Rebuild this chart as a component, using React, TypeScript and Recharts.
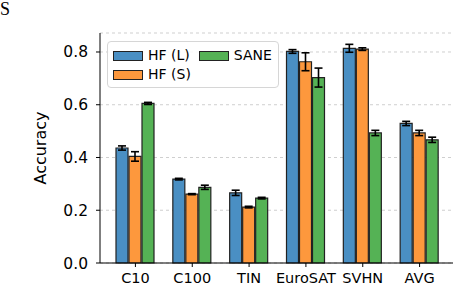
import { BarChart, Bar, XAxis, YAxis, CartesianGrid, ErrorBar } from 'recharts';

const categories = ['C10', 'C100', 'TIN', 'EuroSAT', 'SVHN', 'AVG'];
const hfL = [0.436, 0.318, 0.266, 0.802, 0.814, 0.529];
const hfLErr = [0.008, 0.003, 0.01, 0.007, 0.015, 0.008];
const hfS = [0.404, 0.261, 0.212, 0.763, 0.811, 0.493];
const hfSErr = [0.018, 0.002, 0.003, 0.034, 0.005, 0.01];
const sane = [0.605, 0.287, 0.246, 0.703, 0.493, 0.467];
const saneErr = [0.004, 0.008, 0.003, 0.036, 0.01, 0.01];
const yTicks = [0, 0.2, 0.4, 0.6, 0.8];

const series = [
  { key: 'hfL', err: 'hfLErr', name: 'HF (L)', color: '#4a8fc3' },
  { key: 'hfS', err: 'hfSErr', name: 'HF (S)', color: '#fd983d' },
  { key: 'sane', err: 'saneErr', name: 'SANE', color: '#55b255' },
];

const data = categories.map((c, i) => ({
  name: c,
  hfL: hfL[i],
  hfLErr: hfLErr[i],
  hfS: hfS[i],
  hfSErr: hfSErr[i],
  sane: sane[i],
  saneErr: saneErr[i],
}));

const font = '"DejaVu Sans", sans-serif';

const Patch = ({ color }: { color: string }) => (
  <div style={{ width: 28, height: 8, background: color, border: '1.2px solid #222', flex: 'none' }} />
);

// matplotlib style legend box, two columns
const LegendBox = () => {
  const item = (s: (typeof series)[number]) => (
    <div style={{ display: 'flex', alignItems: 'center', gap: 5, height: 19, whiteSpace: 'nowrap' }}>
      <Patch color={s.color} />
      <span>{s.name}</span>
    </div>
  );
  return (
    <div
      style={{
        position: 'absolute',
        left: 107,
        top: 41,
        boxSizing: 'border-box',
        display: 'flex',
        gap: 8,
        padding: '4px 5px',
        border: '1px solid #d6d6d6',
        borderRadius: 4,
        background: 'rgba(255,255,255,0.85)',
        fontFamily: font,
        fontSize: 14,
        lineHeight: '19px',
        color: '#000',
        width: 172,
        height: 47,
      }}
    >
      <div>
        {item(series[0])}
        {item(series[1])}
      </div>
      <div>{item(series[2])}</div>
    </div>
  );
};

export default function App() {
  return (
    <div style={{ position: 'absolute', left: 0, top: 0, width: 456, height: 286, background: '#fff' }}>
      <span
        style={{
          position: 'absolute',
          left: 0,
          top: 0,
          fontFamily: '"Liberation Serif", serif',
          fontSize: 18,
          lineHeight: '18px',
          color: '#000',
        }}
      >
        S
      </span>
      <BarChart
        width={456}
        height={286}
        data={data}
        margin={{ top: 33, right: 3, left: 0, bottom: 0 }}
        barSize={12}
        barGap={1}
      >
        <CartesianGrid vertical={false} strokeDasharray="3 3" stroke="#cfcfcf" />
        <XAxis
          dataKey="name"
          height={23}
          padding={{ left: 7, right: 5 }}
          tick={{ fill: '#000', fontSize: 14.5, fontFamily: font }}
          tickSize={4}
          tickMargin={6}
          stroke="#000"
          interval={0}
        />
        <XAxis xAxisId="top" dataKey="name" orientation="top" height={0} tick={false} tickLine={false} stroke="#000" />
        <YAxis
          domain={[0, 0.872]}
          ticks={yTicks}
          width={100}
          tickFormatter={(v: number) => v.toFixed(1)}
          tick={{ fill: '#000', fontSize: 15.5, fontFamily: font }}
          tickSize={4}
          tickMargin={8}
          stroke="#000"
          label={{
            value: 'Accuracy',
            angle: -90,
            position: 'insideLeft',
            offset: 40,
            style: { fill: '#000', fontSize: 16, fontFamily: font, textAnchor: 'middle' },
          }}
        />
        <YAxis yAxisId="right" orientation="right" width={0} domain={[0, 0.872]} tick={false} tickLine={false} stroke="#000" />
        {series.map((s) => (
          <Bar key={s.key} dataKey={s.key} name={s.name} fill={s.color} stroke="#222" strokeWidth={1.2} isAnimationActive={false}>
            <ErrorBar dataKey={s.err} width={4} stroke="#000" strokeWidth={1.6} />
          </Bar>
        ))}
      </BarChart>
      <LegendBox />
    </div>
  );
}
